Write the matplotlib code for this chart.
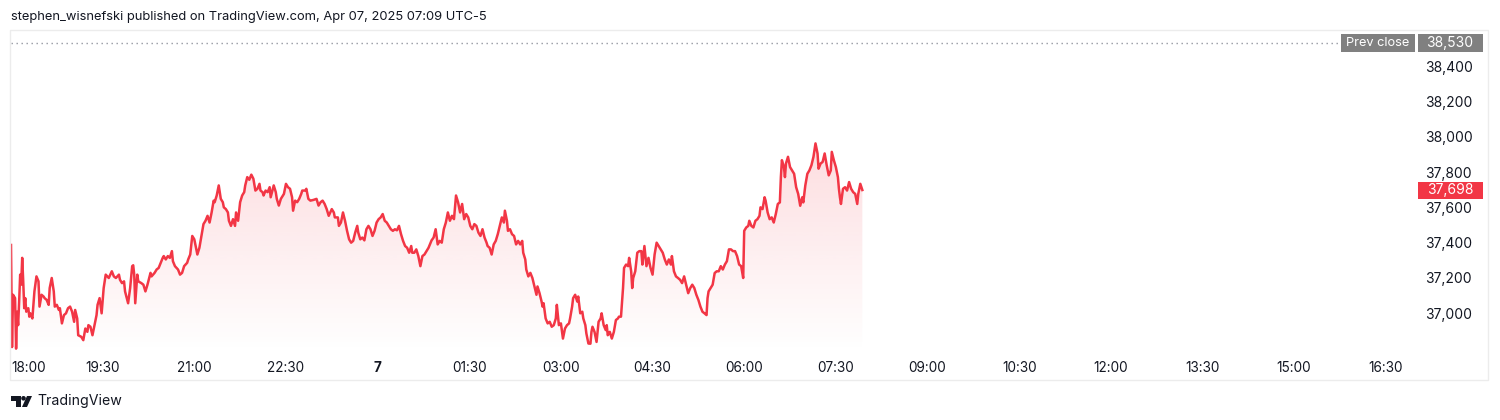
import numpy as np
import matplotlib.pyplot as plt
from matplotlib.patches import Rectangle, Polygon, Circle
from matplotlib.transforms import Affine2D

plt.rcParams['font.family'] = ['Inter', 'DejaVu Sans']

# ------------------------------------------------------------
# Data: minutes after 18:00 (Apr 6) and price
# ------------------------------------------------------------
minutes = [
    0, 1, 2, 4, 5, 6, 7, 8, 9, 10, 11, 12, 13, 14, 15, 17, 18, 19, 21, 23,
    25, 27, 28, 30, 32, 33, 35, 37, 38, 40, 42, 43, 45, 47, 48, 50, 52, 54, 56, 58,
    60, 62, 63, 65, 66, 69, 71, 73, 75, 76, 78, 80, 82, 84, 85, 87, 89, 91, 93, 96,
    99, 101, 103, 106, 107, 109, 111, 112, 115, 117, 119, 120, 121, 122, 124, 125, 128, 130, 132, 134,
    137, 138, 141, 143, 145, 147, 149, 150, 152, 154, 156, 158, 159, 161, 164, 166, 168, 170, 173, 174,
    176, 178, 180, 182, 183, 185, 187, 189, 191, 193, 195, 197, 199, 200, 202, 204, 206, 208, 209, 211,
    213, 214, 216, 218, 220, 221, 223, 225, 227, 229, 230, 232, 234, 236, 238, 240, 242, 244, 245, 247,
    248, 250, 252, 254, 255, 258, 260, 261, 263, 265, 266, 268, 270, 272, 274, 276, 277, 279, 281, 283,
    285, 286, 289, 290, 292, 294, 297, 300, 302, 304, 306, 308, 310, 312, 315, 317, 318, 321, 322, 324,
    326, 328, 330, 332, 334, 336, 338, 340, 341, 343, 345, 347, 349, 351, 353, 355, 357, 359, 361, 363,
    365, 367, 369, 371, 373, 375, 377, 379, 381, 383, 385, 387, 389, 391, 393, 394, 396, 398, 400, 402,
    404, 406, 408, 410, 412, 413, 415, 417, 419, 421, 423, 425, 427, 429, 431, 433, 435, 437, 439, 441,
    443, 445, 447, 449, 451, 453, 455, 457, 459, 461, 463, 465, 467, 468, 470, 472, 474, 476, 478, 480,
    482, 484, 485, 487, 488, 490, 492, 494, 496, 498, 500, 502, 503, 505, 506, 508, 510, 512, 514, 516,
    517, 519, 521, 522, 523, 525, 527, 529, 531, 533, 535, 536, 538, 540, 542, 544, 546, 548, 549, 551,
    552, 554, 556, 557, 559, 561, 562, 564, 565, 567, 569, 570, 571, 573, 575, 577, 579, 580, 582, 584,
    585, 586, 588, 590, 592, 594, 596, 597, 599, 601, 602, 604, 606, 607, 609, 610, 611, 613, 615, 617,
    619, 620, 622, 624, 626, 628, 630, 632, 634, 636, 638, 640, 642, 644, 646, 648, 649, 651, 653, 655,
    657, 659, 661, 663, 665, 667, 669, 671, 673, 675, 677, 679, 681, 683, 684, 685, 687, 689, 691, 693,
    695, 697, 699, 701, 703, 705, 707, 709, 711, 713, 715, 717, 719, 720, 722, 724, 725, 727, 729, 731,
    733, 735, 736, 738, 740, 741, 743, 745, 747, 749, 751, 753, 755, 756, 757, 759, 760, 761, 763, 765,
    767, 769, 771, 773, 775, 777, 778, 780, 782, 784, 786, 788, 790, 792, 793, 795, 797, 799, 801, 803,
    805, 806, 808, 810, 812, 813, 814, 815, 817, 819, 821, 823, 825, 827, 829, 831, 832, 834, 836,
]
prices = [
    37387, 36809, 37105, 37086, 36800, 37009, 36933, 37067, 37219, 37162, 37314, 37181, 37029, 37086, 37009, 37029, 36981, 37000, 36971, 37124,
    37209, 37181, 37038, 37105, 37095, 37086, 37076, 37048, 37143, 37200, 37124, 37038, 37048, 37019, 37029, 36943, 36990, 37000, 37029, 37038,
    37009, 36952, 37019, 36971, 36876, 36867, 36848, 36914, 36895, 36933, 36924, 36876, 36933, 36990, 37048, 37086, 37000, 37143, 37219, 37200,
    37238, 37209, 37200, 37219, 37190, 37171, 37181, 37124, 37057, 37143, 37267, 37272, 37219, 37057, 37219, 37181, 37171, 37162, 37124, 37162,
    37229, 37209, 37229, 37248, 37257, 37286, 37314, 37324, 37305, 37324, 37314, 37352, 37295, 37267, 37248, 37219, 37229, 37267, 37286, 37305,
    37333, 37438, 37419, 37362, 37333, 37371, 37438, 37505, 37524, 37552, 37514, 37571, 37638, 37629, 37667, 37724, 37648, 37629, 37600, 37590,
    37571, 37524, 37495, 37533, 37495, 37571, 37524, 37629, 37667, 37686, 37724, 37771, 37756, 37785, 37762, 37695, 37705, 37733, 37695, 37686,
    37667, 37695, 37686, 37714, 37657, 37724, 37686, 37648, 37610, 37648, 37657, 37676, 37733, 37714, 37705, 37657, 37581, 37638, 37629, 37648,
    37676, 37695, 37695, 37705, 37648, 37638, 37642, 37648, 37610, 37629, 37638, 37619, 37590, 37552, 37590, 37571, 37543, 37543, 37495, 37514,
    37571, 37524, 37467, 37419, 37400, 37410, 37457, 37495, 37457, 37419, 37429, 37413, 37476, 37495, 37476, 37438, 37467, 37514, 37533, 37543,
    37562, 37524, 37514, 37495, 37476, 37467, 37476, 37470, 37495, 37448, 37410, 37381, 37371, 37343, 37381, 37343, 37343, 37362, 37324, 37267,
    37324, 37333, 37352, 37371, 37400, 37413, 37429, 37476, 37390, 37410, 37400, 37476, 37514, 37571, 37524, 37552, 37533, 37667, 37629, 37571,
    37619, 37533, 37562, 37543, 37495, 37476, 37505, 37495, 37457, 37438, 37476, 37429, 37400, 37381, 37371, 37333, 37390, 37410, 37448, 37495,
    37543, 37514, 37581, 37524, 37467, 37476, 37448, 37438, 37390, 37410, 37390, 37410, 37343, 37305, 37248, 37209, 37229, 37200, 37152, 37105,
    37152, 37114, 37067, 37038, 37057, 36971, 36943, 36952, 36924, 36933, 36971, 37048, 36933, 36943, 36857, 36914, 36933, 36943, 36971, 37038,
    37086, 37105, 37067, 37095, 37000, 37009, 36971, 36933, 36886, 36829, 36828, 36895, 36924, 36895, 36838, 36952, 36971, 37000, 36933, 36905,
    36933, 36876, 36895, 36857, 36895, 36962, 36971, 36981, 36981, 37143, 37257, 37276, 37267, 37314, 37238, 37143, 37200, 37238, 37343, 37352,
    37352, 37276, 37381, 37267, 37314, 37257, 37219, 37333, 37400, 37381, 37362, 37343, 37305, 37276, 37305, 37276, 37324, 37238, 37209, 37200,
    37190, 37171, 37209, 37162, 37114, 37143, 37162, 37143, 37105, 37076, 37038, 37009, 37000, 36990, 37086, 37124, 37143, 37162, 37228, 37238,
    37238, 37267, 37248, 37276, 37295, 37362, 37362, 37352, 37352, 37324, 37276, 37267, 37200, 37467, 37486, 37495, 37524, 37495, 37486, 37524,
    37533, 37552, 37600, 37590, 37657, 37638, 37571, 37533, 37543, 37514, 37562, 37619, 37628, 37771, 37867, 37828, 37771, 37848, 37886, 37828,
    37809, 37790, 37714, 37676, 37609, 37657, 37628, 37724, 37790, 37809, 37838, 37886, 37962, 37905, 37819, 37848, 37857, 37905, 37838, 37781,
    37809, 37914, 37867, 37828, 37771, 37705, 37657, 37619, 37705, 37714, 37695, 37743, 37705, 37686, 37676, 37619, 37676, 37733, 37698,
]

prev_close = 38530
last_price = prices[-1]

tick_minutes = list(range(0, 1351, 90))
tick_labels = ['18:00', '19:30', '21:00', '22:30', '7', '01:30', '03:00', '04:30',
               '06:00', '07:30', '09:00', '10:30', '12:00', '13:30', '15:00', '16:30']
price_ticks = [37000, 37200, 37400, 37600, 37800, 38000, 38200, 38400]

RED = '#f23645'
GREY = '#808080'
TEXT = '#131722'
W, H = 1500, 420

fig = plt.figure(figsize=(15, 4.2), dpi=100)
fig.patch.set_facecolor('white')
# transform for pixel positions measured from the top-left corner
px = Affine2D().scale(1 / W, -1 / H).translate(0, 1) + fig.transFigure

ax = fig.add_axes([11 / W, 1 - 352 / H, 1404 / W, 322 / H])
y_lo, y_hi = 36781, 38604
ax.set_xlim(0, 1378.7)
ax.set_ylim(y_lo, y_hi)
for s in ax.spines.values():
    s.set_visible(False)

# gradient area under the line
top = max(prices)
alpha = np.linspace(0.17, 0.0, 256)
grad = np.zeros((256, 1, 4))
grad[..., 0], grad[..., 1], grad[..., 2] = 242 / 255, 54 / 255, 69 / 255
grad[..., 3] = alpha[:, None]
im = ax.imshow(grad, extent=[minutes[0], minutes[-1], y_lo, top],
               aspect='auto', origin='upper', zorder=1, interpolation='bilinear')
area = ax.fill_between(minutes, prices, y_lo, color='none', lw=0)
im.set_clip_path(area.get_paths()[0], transform=ax.transData)

ax.plot(minutes, prices, color=RED, lw=1.8, zorder=3, solid_joinstyle='round')

# previous close dotted line
ax.axhline(prev_close, xmin=0, xmax=(1340 - 11) / 1404, color='#9598a1',
           lw=1, linestyle=(0, (1, 2.6)), zorder=2)

# axes ticks
ax.set_xticks(tick_minutes, tick_labels)
ax.tick_params(axis='x', length=0, pad=6.5, labelsize=9.8, labelcolor=TEXT)
xl = ax.get_xticklabels()
xl[0].set_ha('left')
xl[4].set_fontweight('bold')

ax.yaxis.tick_right()
ax.set_yticks(price_ticks, [f'{v:,}' for v in price_ticks])
ax.tick_params(axis='y', length=0, pad=7.2, labelsize=10, labelcolor=TEXT)

# chart frame
fig.add_artist(Rectangle((10, 30), 1478, 350, transform=px, fill=False,
                         edgecolor='#ececec', lw=1))


def y_pixel(value):
    return H - ax.transData.transform((0, value))[1]


# prev close labels
yp = y_pixel(prev_close)
fig.add_artist(Rectangle((1341, yp - 9), 74, 18, transform=px, color=GREY, lw=0))
fig.add_artist(Rectangle((1418, yp - 9), 65, 18, transform=px, color=GREY, lw=0))
fig.text(1378 / W, 1 - yp / H, 'Prev close', color='white', fontsize=9.2,
         ha='center', va='center')
fig.text(1450 / W, 1 - yp / H, f'{prev_close:,}', color='white', fontsize=10,
         ha='center', va='center')

# last price label
yl = y_pixel(last_price)
fig.add_artist(Rectangle((1418, yl - 8.5), 65, 17, transform=px, color=RED, lw=0))
fig.text(1450 / W, 1 - yl / H, f'{last_price:,}', color='white', fontsize=10,
         ha='center', va='center')

# header and footer
fig.text(11 / W, 1 - 17 / H,
         'stephen_wisnefski published on TradingView.com, Apr 07, 2025 07:09 UTC-5',
         fontsize=9.3, color=TEXT, va='center')

fig.add_artist(Polygon([(11, 396), (21, 396), (21, 407), (16, 407), (16, 401), (11, 401)],
                       closed=True, transform=px, color=TEXT, lw=0))
fig.add_artist(Circle((23.5, 398.3), 2.3, transform=px, color=TEXT, lw=0))
fig.add_artist(Polygon([(27, 396), (32, 396), (27, 407), (22, 407)],
                       closed=True, transform=px, color=TEXT, lw=0))
fig.text(37 / W, 1 - 401 / H, 'TradingView', fontsize=10.2, color=TEXT, va='center')

fig.savefig('out.png', dpi=100)
